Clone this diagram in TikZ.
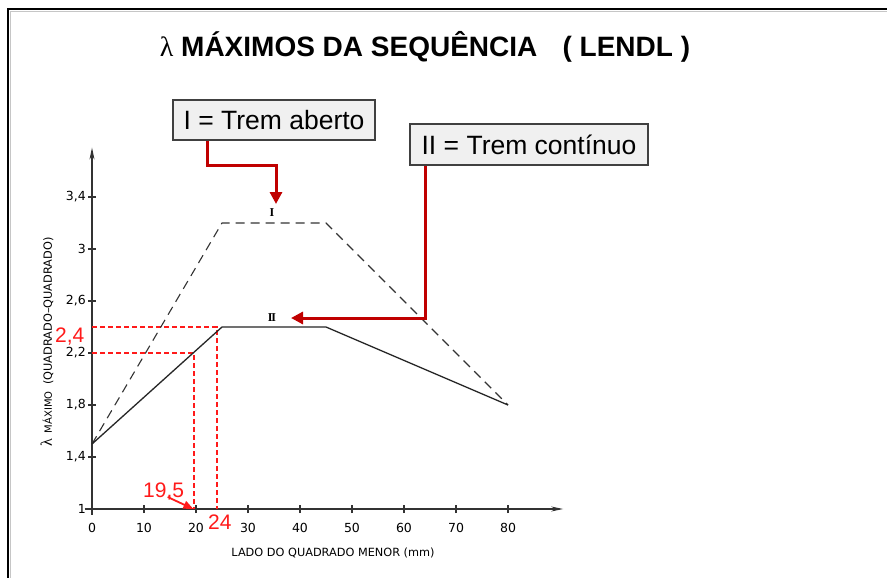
\documentclass[tikz,border=0pt]{standalone}
\usepackage{fontspec}
\setmainfont{Liberation Sans}
\newfontfamily\serifgr{Liberation Serif}
\newfontfamily\cadfont{DejaVu Sans}
\usetikzlibrary{arrows.meta}
\definecolor{darkred}{HTML}{C00000}
\definecolor{brightred}{HTML}{FF1A1A}
\definecolor{boxfill}{HTML}{F0F0F0}
\definecolor{boxline}{HTML}{404040}
\begin{document}
\begin{tikzpicture}[x=1pt,y=-1pt,
  ticklab/.style={font=\cadfont\fontsize{12.5}{12.5}\selectfont, inner sep=0pt},
  axislab/.style={font=\cadfont\fontsize{11.3}{11.3}\selectfont, inner sep=0pt},
  callout/.style={draw=boxline, line width=1.2pt, fill=boxfill, inner sep=4pt,
    font=\fontsize{26.5}{26.5}\selectfont},
  redlab/.style={text=brightred, font=\fontsize{21}{21}\selectfont, inner sep=0pt},
  redarrow/.style={draw=darkred, line width=3pt, -{Triangle[length=12pt,width=12pt]}},
  redthin/.style={color=brightred, line width=1.8pt, -{Triangle[length=10pt,width=8pt]}},
  reddash/.style={color=brightred, line width=1.5pt, dash pattern=on 5pt off 3pt},
  curveI/.style={draw=black!80, line width=1.1pt, dash pattern=on 9pt off 6pt},
  curveII/.style={draw=black!85, line width=1.3pt},
  axisline/.style={draw=black!80, line width=1.1pt},
  romlab/.style={font=\serifgr\bfseries\fontsize{12}{12}\selectfont, inner sep=0pt}]
\useasboundingbox (0,0) rectangle (887,578);
\fill[white] (0,0) rectangle (887,578);
% frame
\draw[gray!45, line width=1.2pt] (10.5,578) -- (10.5,11.5) -- (887,11.5);
\draw[black, line width=2pt] (8,578) -- (8,9) -- (887,9);
% title
\node[font=\bfseries\fontsize{28}{28}\selectfont, inner sep=0pt] (title) at (425,47)
  {{\serifgr\mdseries λ} MÁXIMOS DA SEQUÊNCIA\hspace{0.9em}( LENDL )};
% chart
\begin{scope}[shift={(92,639)}, x=5.2pt, y=130pt]
  \draw[axisline, -{Stealth[length=12pt,width=5pt]}] (0,0.954) -- (0,3.78);
  \draw[axisline, -{Stealth[length=12pt,width=5pt]}] (-1.4,1) -- (90.6,1);
  \foreach \x in {0,10,...,80} {
    \draw[axisline] ([yshift=-4pt]\x,1) -- ([yshift=4pt]\x,1);
    \node[ticklab] at ([yshift=-19pt]\x,1) {\x};
  }
  \foreach \v/\l in {1/1, 1.4/{1,4}, 1.8/{1,8}, 2.2/{2,2}, 2.6/{2,6}, 3/3, 3.4/{3,4}} {
    \draw[axisline] ([xshift=-4pt]0,\v) -- ([xshift=4pt]0,\v);
    \node[ticklab, anchor=east] at ([xshift=-6pt]0,\v) {\l};
  }
  \draw[reddash] (0,2.4) -- (24,2.4) -- (24,1);
  \draw[reddash] (0,2.2) -- (19.6,2.2) -- (19.6,1);
  \draw[curveI] (0,1.5) -- (25,3.2) -- (45,3.2) -- (80,1.8);
  \draw[curveII] (0,1.5) -- (25,2.4) -- (45,2.4) -- (80,1.8);
  \node[romlab] (labI) at (34.6,3.277) {I};
  \node[romlab] (labII) at (34.6,2.469) {I\kern-1pt I};
  \coordinate (p195) at (19.5,1);
\end{scope}
% axis titles
\node[axislab, rotate=90] (ylab) at (47,342)
  {{\serifgr\fontsize{16}{16}\selectfont λ}\hspace{0.5em}{\fontsize{10}{10}\selectfont MÁXIMO}\hspace{0.6em}(QUADRADO–QUADRADO)};
\node[axislab] (xlab) at (333,553) {LADO DO QUADRADO MENOR (mm)};
% red labels
\node[redlab, anchor=base west] (lab24y) at (55,342) {2,4};
\node[redlab, anchor=base west] (lab195) at (143,497) {19,5};
\node[redlab, anchor=base west] (lab24x) at (208,529) {24};
\draw[redthin] ([xshift=4pt]lab195.base) -- (p195);
% callouts
\node[callout, minimum width=202pt, minimum height=40pt] (boxI) at (274,120) {I = Trem aberto};
\node[callout, minimum width=238pt, minimum height=41pt] (boxII) at (529,144.5) {II = Trem contínuo};
\coordinate (tipI) at (276,204);
\coordinate (tipII) at (291,318);
\draw[redarrow] ([xshift=35pt]boxI.south west) -- ++(0,25) -| (tipI);
\draw[redarrow] ([xshift=16pt]boxII.south west) |- (tipII);
\end{tikzpicture}
\end{document}
